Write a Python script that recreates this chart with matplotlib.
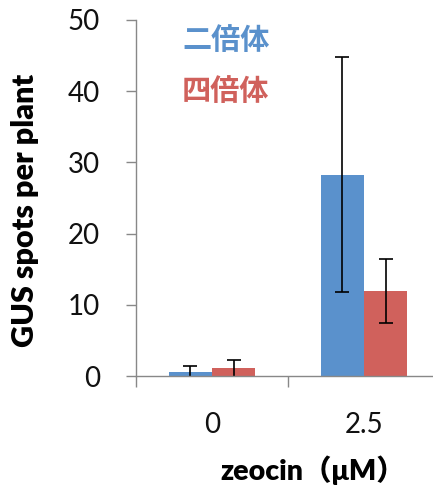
import numpy as np
import matplotlib
matplotlib.use('Agg')
import matplotlib.pyplot as plt

plt.rcParams['font.family'] = ['Lato', 'Noto Sans CJK JP', 'DejaVu Sans']

# data
doses = ['0', '2.5']
series = ['二倍体', '四倍体']
diploid = [0.5, 28.3]
diploid_err = [0.9, 16.5]
tetraploid = [1.1, 12.0]
tetraploid_err = [1.2, 4.5]
colors = ['#5a91cc', '#d0615c']

fig = plt.figure(figsize=(4.33, 4.86), dpi=100)
ax = fig.add_axes([136/433, 110/486, 304/433, 356/486])

x = np.arange(len(doses))
w = 0.283
ax.bar(x - w/2, diploid, w, color=colors[0], label=series[0])
ax.bar(x + w/2, tetraploid, w, color=colors[1], label=series[1])
ax.errorbar(x - w/2, diploid, yerr=diploid_err, fmt='none', ecolor='black',
            elinewidth=1.2, capsize=4.8, capthick=1.2)
ax.errorbar(x + w/2, tetraploid, yerr=tetraploid_err, fmt='none', ecolor='black',
            elinewidth=1.2, capsize=4.8, capthick=1.2)

ax.set_xlim(-0.5, 1.5)
ax.set_ylim(0, 50)
ax.set_yticks([0, 10, 20, 30, 40, 50])
ax.set_xticks([-0.5, 0.5, 1.5])
ax.set_xticklabels([])
ax.set_xticks(x, minor=True)
ax.set_xticklabels(doses, minor=True)
ax.tick_params(axis='x', which='major', length=8, width=1, color='#888888', direction='out')
ax.tick_params(axis='x', which='minor', length=0, pad=26, labelsize=20, labelcolor='#111111')
ax.tick_params(axis='y', length=7, width=1, color='#888888', pad=19, labelsize=20,
               labelcolor='#111111')
for s in ['top', 'right']:
    ax.spines[s].set_visible(False)
for s in ['left', 'bottom']:
    ax.spines[s].set_color('#888888')
    ax.spines[s].set_linewidth(1)

ax.set_ylabel('GUS spots per plant', fontsize=22, fontweight='heavy')
ax.yaxis.set_label_coords(-97/304, 166/356)
fig.text(313/433, 16/486, 'zeocin（μM）', fontsize=20.5, fontweight='heavy',
         ha='center', va='center')

leg = ax.legend(loc='upper left', bbox_to_anchor=(0.065, 1.06), frameon=False,
                handlelength=0, handletextpad=0, labelspacing=0.72,
                prop={'family': 'Noto Sans CJK JP', 'size': 21, 'weight': 'bold'})
for h in leg.legend_handles:
    h.set_visible(False)
for t, c in zip(leg.get_texts(), colors):
    t.set_color(c)

fig.savefig('out.png', dpi=100)
